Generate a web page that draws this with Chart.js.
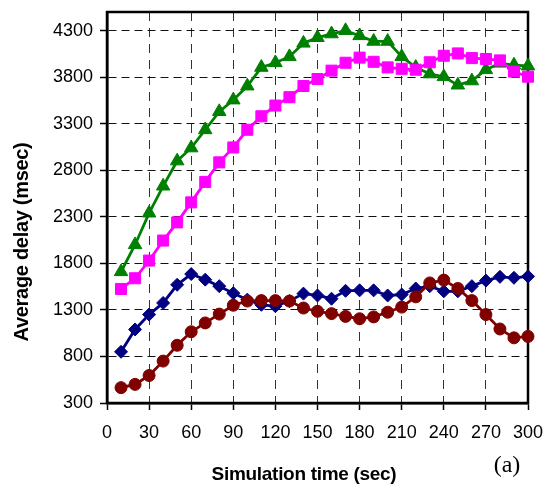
<!DOCTYPE html>
<html>
<head>
<meta charset="utf-8">
<title>Average delay vs simulation time</title>
<script src="https://cdn.jsdelivr.net/npm/chart.js@4.4.1/dist/chart.umd.min.js"></script>
<style>
  body { margin: 0; background: #fff; }
</style>
</head>
<body>
<canvas id="delayChart" width="546" height="490"></canvas>
<script>
// simulation time (sec) of every sample
const simTime = [10, 20, 30, 40, 50, 60, 70, 80, 90, 100,
                 110, 120, 130, 140, 150, 160, 170, 180, 190, 200,
                 210, 220, 230, 240, 250, 260, 270, 280, 290, 300]

const xTicks = [0, 30, 60, 90, 120, 150, 180, 210, 240, 270, 300]
const yTicks = [300, 800, 1300, 1800, 2300, 2800, 3300, 3800, 4300]

// average delay (msec)
const greenDelay = [1710, 2000, 2340, 2630, 2900, 3040, 3235, 3430, 3555, 3705,
                    3905, 3955, 4020, 4165, 4225, 4265, 4300, 4245, 4185, 4185,
                    4020, 3905, 3835, 3805, 3715, 3760, 3880, 3950, 3930, 3920]
const magentaDelay = [1525, 1640, 1830, 2045, 2240, 2455, 2675, 2885, 3045, 3235,
                      3380, 3495, 3585, 3705, 3780, 3870, 3955, 4010, 3965, 3905,
                      3890, 3880, 3960, 4030, 4055, 4005, 3995, 3980, 3860, 3805]
const navyDelay = [850, 1090, 1250, 1375, 1570, 1685, 1625, 1555, 1480, 1410,
                   1355, 1340, 1395, 1475, 1455, 1420, 1505, 1510, 1510, 1455,
                   1465, 1530, 1555, 1500, 1500, 1555, 1615, 1655, 1645, 1660]
const redDelay = [465, 500, 595, 750, 920, 1065, 1160, 1255, 1350, 1395,
                  1400, 1400, 1395, 1320, 1285, 1260, 1230, 1205, 1225, 1275,
                  1330, 1440, 1590, 1620, 1530, 1400, 1250, 1095, 1000, 1015]

const xTitle = 'Simulation time (sec)'
const yTitle = 'Average delay (msec)'
const panelLabel = '(a)'

const tickFont = { family: '"Liberation Sans", Arial, sans-serif', size: 18 }

function toPoints(values) {
  return values.map((v, i) => ({ x: simTime[i], y: v }))
}

function makeSet(values, color, style, radius) {
  return {
    data: toPoints(values),
    borderColor: color,
    backgroundColor: color,
    borderWidth: 2.8,
    pointStyle: style,
    pointRadius: radius,
    pointBorderWidth: 1,
    pointBorderColor: color,
    pointBackgroundColor: color,
    tension: 0,
    clip: false
  }
}

// box around the plot area (top and right sides too)
const frame = {
  id: 'frame',
  beforeDatasetsDraw(chart) {
    const { ctx, chartArea: a } = chart
    ctx.save()
    ctx.strokeStyle = '#000'
    ctx.lineWidth = 2.5
    ctx.strokeRect(a.left, a.top, a.right - a.left, a.bottom - a.top)
    ctx.restore()
  }
}

const titles = {
  id: 'titles',
  afterDraw(chart) {
    const { ctx } = chart
    ctx.save()
    ctx.fillStyle = '#000'
    ctx.textAlign = 'center'
    ctx.textBaseline = 'middle'
    ctx.letterSpacing = '-0.3px'
    ctx.font = 'bold 19px "Liberation Sans", Arial, sans-serif'
    ctx.fillText(xTitle, 304, 475)

    ctx.font = 'bold 20px "Liberation Sans", Arial, sans-serif'
    ctx.translate(22, 242)
    ctx.rotate(-Math.PI / 2)
    ctx.fillText(yTitle, 0, 0)
    ctx.restore()

    ctx.save()
    ctx.fillStyle = '#000'
    ctx.textAlign = 'center'
    ctx.textBaseline = 'middle'
    ctx.font = '24px "Liberation Serif", "Times New Roman", serif'
    ctx.fillText(panelLabel, 507, 466)
    ctx.restore()
  }
}

let ctx = document.getElementById('delayChart').getContext('2d')

new Chart(ctx, {
  type: 'line',
  data: {
    datasets: [
      makeSet(redDelay, '#800000', 'circle', 6),
      makeSet(navyDelay, '#000080', 'rectRot', 6.5),
      makeSet(magentaDelay, '#FF00FF', 'rect', 7.8),
      makeSet(greenDelay, '#008000', 'triangle', 7.8)
    ]
  },
  options: {
    responsive: false,
    animation: false,
    layout: { padding: { left: 0, right: 18, top: 12, bottom: 0 } },
    plugins: {
      legend: { display: false },
      tooltip: { enabled: false }
    },
    scales: {
      x: {
        type: 'linear',
        min: 0,
        max: 300,
        afterBuildTicks: scale => { scale.ticks = xTicks.map(v => ({ value: v })) },
        afterFit: scale => {
          scale.height = 87
          scale.paddingLeft = 0
          scale.paddingRight = 0
        },
        ticks: { color: '#000', font: tickFont, padding: 12, maxRotation: 0, autoSkip: false,
                 callback: v => String(v) },
        grid: { color: '#333', lineWidth: 1, tickLength: 7, tickColor: '#000', tickWidth: 1.5 },
        border: { color: '#000', width: 2.5, dash: [9, 7] }
      },
      y: {
        min: 300,
        max: 4500,
        afterBuildTicks: scale => { scale.ticks = yTicks.map(v => ({ value: v })) },
        afterFit: scale => {
          scale.width = 107
          scale.paddingTop = 0
          scale.paddingBottom = 0
        },
        ticks: { color: '#000', font: tickFont, padding: 7, autoSkip: false,
                 callback: v => String(v) },
        grid: { color: '#111', lineWidth: 1, tickLength: 7, tickColor: '#000', tickWidth: 1.5 },
        border: { color: '#000', width: 2.5, dash: [8, 5] }
      }
    }
  },
  plugins: [frame, titles]
})
</script>
</body>
</html>
